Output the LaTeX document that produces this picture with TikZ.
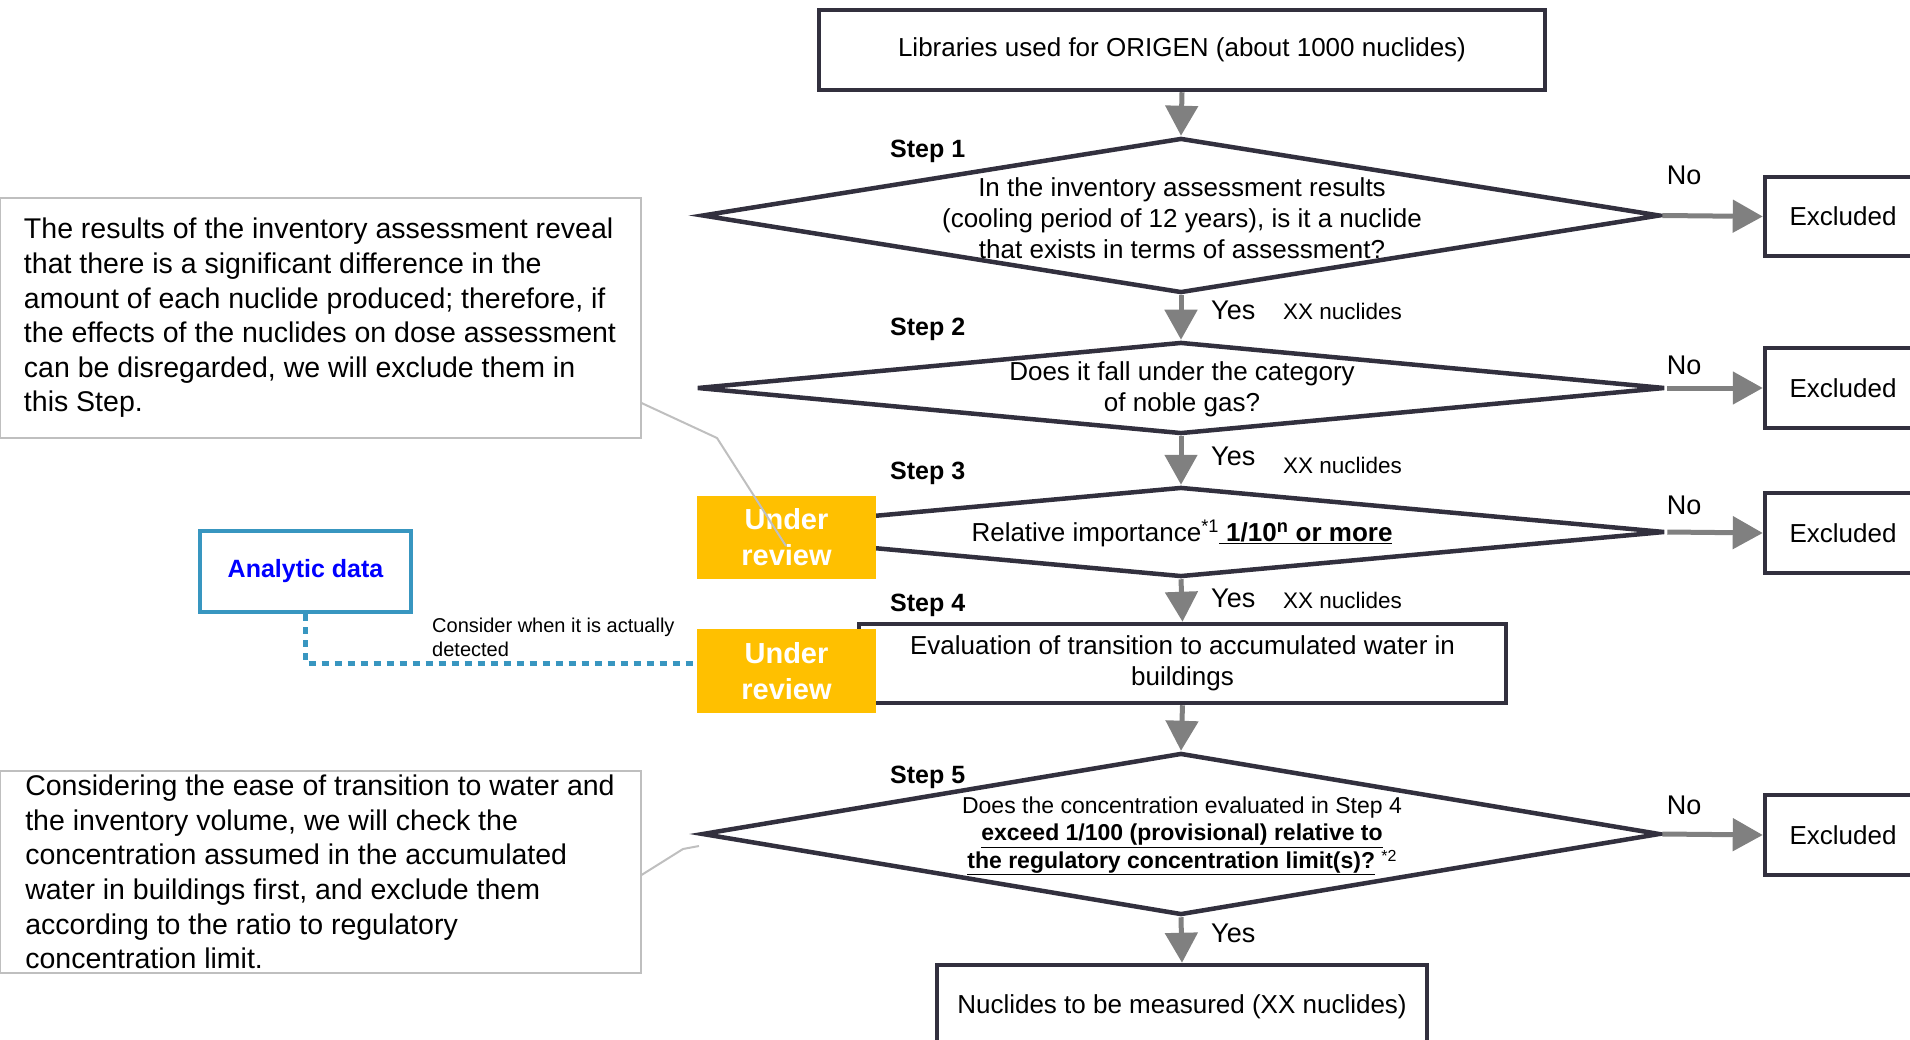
\documentclass[tikz,border=0pt]{standalone}
\usepackage{fontspec}
\setmainfont{Liberation Sans}
\usetikzlibrary{shapes.geometric,arrows.meta,calc}
\definecolor{navy}{RGB}{50,48,62}
\definecolor{garr}{RGB}{128,128,128}
\definecolor{urev}{RGB}{255,192,0}
\definecolor{anteal}{RGB}{56,150,192}
\definecolor{cgray}{RGB}{191,191,191}
\begin{document}
\begin{tikzpicture}[x=1pt,y=-1pt,
  box/.style={draw=navy,line width=4.5pt,fill=white,inner sep=0pt,font=\fontsize{26}{31}\selectfont,align=center},
  dia/.style={diamond,draw=navy,line width=4.5pt,inner sep=0pt,fill=white},
  qtext/.style={font=\fontsize{26}{31}\selectfont,align=center},
  qsmall/.style={font=\fontsize{23}{27.5}\selectfont,align=center},
  garrow/.style={draw=garr,line width=5pt,-{Triangle[length=30pt,width=32pt]}},
  urbox/.style={fill=urev,text=white,inner sep=0pt,minimum width=179pt,font=\bfseries\fontsize{29}{36}\selectfont,align=center},
  steplbl/.style={anchor=west,inner sep=0pt,font=\bfseries\fontsize{25}{30}\selectfont},
  ynlbl/.style={inner sep=0pt,font=\fontsize{27}{32}\selectfont},
  xxlbl/.style={anchor=west,inner sep=0pt,font=\fontsize{22.5}{27}\selectfont},
  notebox/.style={draw=cgray,line width=2pt,fill=white,inner sep=0pt,minimum width=641pt,align=left,font=\fontsize{28.5}{34.6}\selectfont},
  callout/.style={draw=cgray,line width=2pt}]
\useasboundingbox (0,0) rectangle (1910,1040);
\clip (0,0) rectangle (1910,1040);

% main boxes
\node[box,minimum width=726pt,minimum height=80pt] (lib) at (1182,50) {\raisebox{-3pt}{Libraries used for ORIGEN (about 1000 nuclides)}};

\node[dia,minimum width=958pt,minimum height=155pt] (d1) at (1181,215.5) {};
\node[qtext] (t1) at (1182,218) {In the inventory assessment results\\(cooling period of 12 years), is it a nuclide\\that exists in terms of assessment?};

\node[dia,minimum width=968pt,minimum height=92pt] (d2) at (1181,388) {};
\node[qtext] (t2) at (1182,389.5) {Does it fall under the category\\of noble gas?};

\node[dia,minimum width=968pt,minimum height=90pt] (d3) at (1181,532) {};
\node[qtext] (t3) at (1182,533) {Relative importance\textsuperscript{*1}\underline{\textbf{ 1/10\textsuperscript{n} or more}}};

\node[box,minimum width=647pt,minimum height=79pt] (s4) at (1182.5,663.5) {Evaluation of transition to accumulated water in\\buildings};

\node[dia,minimum width=958pt,minimum height=162pt] (d5) at (1181,834) {};
\node[qsmall] (t5) at (1182,836) {Does the concentration evaluated in Step 4\\\underline{\textbf{exceed 1/100 (provisional) relative to}}\\\underline{\textbf{the regulatory concentration limit(s)?}} {\fontsize{16}{18}\selectfont\raisebox{7pt}{*2}}};

\node[box,minimum width=490pt,minimum height=84pt] (fin) at (1182,1007) {Nuclides to be measured (XX nuclides)};

% excluded boxes
\node[box,minimum width=156pt,minimum height=79pt] (ex1) at (1843,216.5) {Excluded};
\node[box,minimum width=156pt,minimum height=80pt] (ex2) at (1843,388) {Excluded};
\node[box,minimum width=156pt,minimum height=80pt] (ex3) at (1843,533) {Excluded};
\node[box,minimum width=156pt,minimum height=80pt] (ex5) at (1843,835) {Excluded};

% arrows
\draw[garrow] (lib.south) -- (d1.north);
\draw[garrow] (d1.south) -- (d2.north);
\draw[garrow] (d2.south) -- (d3.north);
\draw[garrow] (d3.south) -- (s4.north);
\draw[garrow] (s4.south) -- (d5.north);
\draw[garrow] (d5.south) -- (fin.north);
\draw[garrow] (d1.east) -- (ex1.west);
\draw[garrow] (d2.east) -- (ex2.west);
\draw[garrow] (d3.east) -- (ex3.west);
\draw[garrow] (d5.east) -- (ex5.west);

% labels
\node[steplbl] (st1) at (890,151) {Step 1};
\node[steplbl] (st2) at (890,329) {Step 2};
\node[steplbl] (st3) at (890,473) {Step 3};
\node[steplbl] (st4) at (890,605) {Step 4};
\node[steplbl] (st5) at (890,777) {Step 5};

\node[ynlbl,anchor=west] (y1) at (1211,310) {Yes};
\node[ynlbl,anchor=west] (y2) at (1211,456) {Yes};
\node[ynlbl,anchor=west] (y3) at (1211,598) {Yes};
\node[ynlbl,anchor=west] (y5) at (1211,933) {Yes};
\node[xxlbl] (x1) at (1283,311) {XX nuclides};
\node[xxlbl] (x2) at (1283,465) {XX nuclides};
\node[xxlbl] (x3) at (1283,600) {XX nuclides};

\node[ynlbl] (n1) at (1684,175) {No};
\node[ynlbl] (n2) at (1684,365) {No};
\node[ynlbl] (n3) at (1684,505) {No};
\node[ynlbl] (n5) at (1684,805) {No};

% analytic data
\node[draw=anteal,line width=4pt,fill=white,minimum width=211pt,minimum height=81pt,inner sep=0pt,text=blue,font=\bfseries\fontsize{25}{30}\selectfont] (an) at (305.5,571.5) {\raisebox{-2pt}{Analytic data}};
\node[anchor=west,inner sep=0pt,align=left,font=\fontsize{20}{24}\selectfont] (cons) at (432,637) {Consider when it is actually\\detected};

% under review
\node[urbox,minimum height=83pt] (ur1) at (786.5,537.5) {Under\\review};
\node[urbox,minimum height=84pt] (ur2) at (786.5,671) {Under\\review};

\draw[anteal,line width=5pt,dash pattern=on 7pt off 6pt] (an.south) |- ($(ur2.west)+(0,-8)$);

% notes
\node[notebox,minimum height=240pt] (lb1) at (320,318) {The results of the inventory assessment reveal\\that there is a significant difference in the\\amount of each nuclide produced; therefore, if\\the effects of the nuclides on dose assessment\\can be disregarded, we will exclude them in\\this Step.};
\node[notebox,minimum height=202pt] (lb2) at (320,872) {Considering the ease of transition to water and\\the inventory volume, we will check the\\concentration assumed in the accumulated\\water in buildings first, and exclude them\\according to the ratio to regulatory\\concentration limit.};

\coordinate (c1a) at (717,438);
\coordinate (c1b) at (786,546);
\draw[callout] ($(lb1.south east)+(0,-36)$) -- (c1a) -- (c1b);
\coordinate (c2a) at (683,849);
\coordinate (c2b) at (699,846);
\draw[callout] ($(lb2.east)+(0,3)$) -- (c2a) -- (c2b);
\end{tikzpicture}
\end{document}
